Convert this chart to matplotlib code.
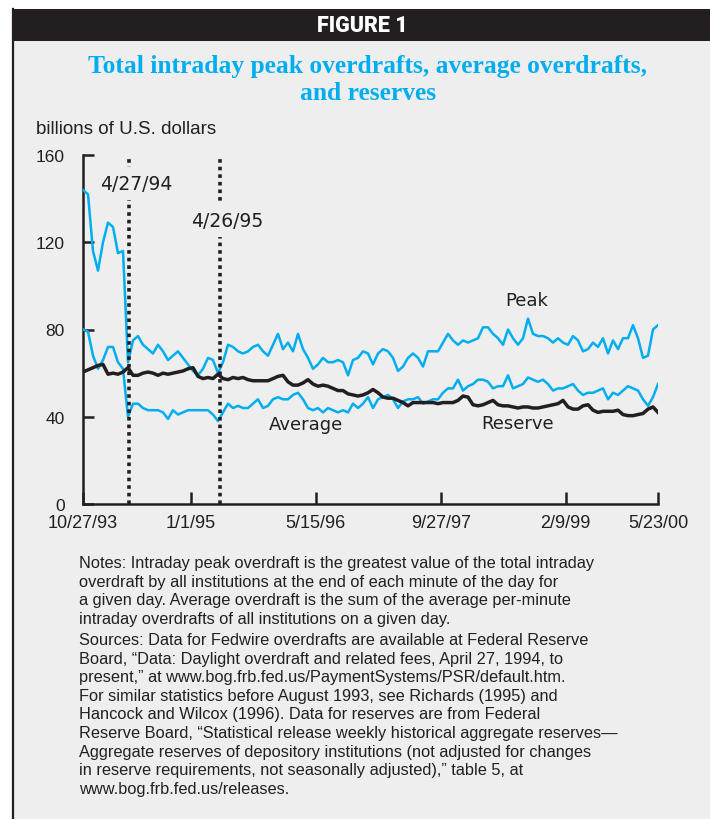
import matplotlib
matplotlib.use("Agg")
import matplotlib.pyplot as plt
import pandas as pd
from matplotlib.patches import Rectangle
from matplotlib.lines import Line2D

# ---------------- data ----------------
start_date = "1993-10-27"
n_points = 116
step = "20D"

peak = [144, 142, 116, 107, 120, 129, 127, 115, 116, 65,
        75, 77, 73, 71, 69, 73, 70, 66, 68, 70,
        67, 64, 61, 59, 62, 67, 66, 60, 65, 73,
        72, 70, 69, 70, 72, 73, 70, 68, 73, 78,
        71, 74, 70, 78, 71, 67, 62, 64, 67, 65,
        65, 66, 65, 59, 66, 67, 70, 69, 64, 69,
        71, 70, 67, 61, 63, 67, 69, 67, 63, 70,
        70, 70, 74, 78, 75, 73, 75, 74, 75, 76,
        81, 81, 78, 76, 73, 80, 76, 73, 76, 85,
        78, 77, 77, 76, 74, 76, 74, 73, 77, 75,
        70, 71, 74, 72, 76, 69, 75, 71, 76, 76,
        82, 76, 67, 68, 80, 82]

average = [80, 79, 68, 62, 66, 72, 72, 65, 62, 40,
           46, 46, 44, 43, 43, 43, 42, 39, 43, 41,
           42, 43, 43, 43, 43, 43, 41, 38, 42, 46,
           44, 45, 44, 44, 46, 48, 44, 45, 48, 49,
           48, 48, 50, 51, 48, 44, 43, 44, 42, 44,
           43, 42, 43, 42, 46, 44, 46, 49, 44, 48,
           49, 50, 48, 44, 47, 48, 48, 49, 46, 47,
           48, 48, 51, 53, 53, 57, 52, 54, 55, 57,
           57, 56, 53, 54, 54, 59, 53, 54, 55, 58,
           57, 56, 57, 55, 52, 53, 53, 54, 55, 52,
           50, 51, 51, 52, 53, 48, 51, 50, 52, 54,
           53, 52, 48, 45, 49, 55]

reserve = [60.5, 61.5, 62.5, 63.5, 64, 59.5, 60, 59.5, 60.5, 62.5,
           59, 59, 60, 60.5, 60, 59, 60, 59.5, 60, 60.5,
           61, 62, 62.5, 58.5, 57.5, 58, 57.5, 59.5, 57.5, 57,
           58, 57.5, 58, 57, 56.5, 56.5, 56.5, 56.5, 57.5, 58.5,
           59, 56, 54.5, 54.5, 55.5, 57, 55, 54, 54.5, 54,
           53, 52, 52, 50.5, 50, 49.5, 50, 51, 52.5, 51,
           49, 48.5, 48.5, 47.5, 46.5, 45, 46.5, 46.5, 46.5, 46.5,
           46.5, 46, 46.5, 46.5, 46.5, 47.5, 49.5, 49, 45.5, 45,
           45.5, 46.5, 47.5, 45.5, 45, 45, 44.5, 44, 44.5, 44.5,
           44, 44, 44.5, 45, 45.5, 46, 47.5, 44.5, 43.5, 43.5,
           45, 45.5, 43, 42, 42.5, 42.5, 42.5, 43, 41, 40.5,
           40.5, 41, 41.5, 43.5, 44.5, 42]

y_ticks = [0, 40, 80, 120, 160]
x_tick_dates = ["1993-10-27", "1995-01-01", "1996-05-15", "1997-09-27", "1999-02-09"]
x_tick_labels = ["10/27/93", "1/1/95", "5/15/96", "9/27/97", "2/9/99", "5/23/00"]
event_dates = ["1994-04-27", "1995-04-26"]
event_labels = ["4/27/94", "4/26/95"]
series_names = ["Peak", "Average", "Reserve"]

title = "Total intraday peak overdrafts, average overdrafts,\nand reserves"
notes = ("Notes: Intraday peak overdraft is the greatest value of the total intraday\n"
         "overdraft by all institutions at the end of each minute of the day for\n"
         "a given day. Average overdraft is the sum of the average per-minute\n"
         "intraday overdrafts of all institutions on a given day.")
sources = ("Sources: Data for Fedwire overdrafts are available at Federal Reserve\n"
           "Board, \u201cData: Daylight overdraft and related fees, April 27, 1994, to\n"
           "present,\u201d at www.bog.frb.fed.us/PaymentSystems/PSR/default.htm.\n"
           "For similar statistics before August 1993, see Richards (1995) and\n"
           "Hancock and Wilcox (1996). Data for reserves are from Federal\n"
           "Reserve Board, \u201cStatistical release weekly historical aggregate reserves\u2014\n"
           "Aggregate reserves of depository institutions (not adjusted for changes\n"
           "in reserve requirements, not seasonally adjusted),\u201d table 5, at\n"
           "www.bog.frb.fed.us/releases.")

# ---------------- style ----------------
BG = "#eeeeee"
DARK = "#231f20"
BLUE = "#00aeef"

dates = pd.date_range(start_date, periods=n_points, freq=step)

W, H = 710, 820
fig = plt.figure(figsize=(W / 100, H / 100), dpi=100, facecolor="white")

# background panel, header bar, left rule
fig.patches.append(Rectangle((12 / W, 0), 1 - 12 / W, 1 - 42 / H, transform=fig.transFigure,
                             facecolor=BG, edgecolor="none", zorder=-10))
fig.patches.append(Rectangle((12 / W, 1 - 42 / H), 1 - 12 / W, 32 / H, transform=fig.transFigure,
                             facecolor=DARK, edgecolor="none", zorder=-10))
fig.lines.append(Line2D([13 / W, 13 / W], [0, 1 - 10 / H], transform=fig.transFigure,
                        color=DARK, lw=1.6, zorder=-5))

fig.text(362 / W, 1 - 26 / H, "FIGURE 1", color="white", ha="center", va="center",
         fontsize=15.5, fontweight="heavy", family="Roboto")
fig.text(368 / W, 1 - 80 / H, title, color=BLUE, ha="center", va="center",
         fontsize=18.4, fontweight="bold", family="Liberation Serif", linespacing=1.22)
fig.text(36 / W, 1 - 130 / H, "billions of U.S. dollars", color=DARK, ha="left", va="center",
         fontsize=13.5, family="Liberation Sans")

ax = fig.add_axes([83 / W, (H - 505) / H, (658 - 83) / W, (505 - 156) / H])
ax.set_facecolor("none")

ax.plot(dates, peak, color=BLUE, lw=1.8, zorder=3)
ax.plot(dates, average, color=BLUE, lw=1.8, zorder=3)
ax.plot(dates, reserve, color=DARK, lw=2.5, zorder=4)

for d, lab, ly in zip(event_dates, event_labels, [146.8, 129.8]):
    dt = pd.Timestamp(d)
    ax.plot([dt, dt], [0, 159], color=DARK, lw=2.6, linestyle=(0, (1.0, 1.1)), zorder=5,
            clip_on=False)
    ax.text(dt + pd.Timedelta(days=30), ly, lab, ha="center", va="center", fontsize=13.5,
            color=DARK, family="DejaVu Sans", zorder=6,
            bbox=dict(facecolor=BG, edgecolor="none", pad=5))

label_pos = [("1998-09-07", 93.5), ("1996-04-06", 36.5), ("1998-08-02", 37)]
for name, (d, v) in zip(series_names, label_pos):
    ax.text(pd.Timestamp(d), v, name, ha="center", va="center", fontsize=13,
            color=DARK, family="DejaVu Sans", zorder=6)

ax.set_ylim(0, 160)
ax.set_xlim(dates[0], dates[-1])
ax.set_yticks(y_ticks)
ax.set_yticklabels([str(v) for v in y_ticks], fontsize=12.5, family="Liberation Sans", color=DARK)
tick_pos = [pd.Timestamp(d) for d in x_tick_dates] + [dates[-1]]
ax.set_xticks(tick_pos)
ax.set_xticklabels(x_tick_labels, fontsize=13, family="Liberation Sans", color=DARK)

for s in ["top", "right"]:
    ax.spines[s].set_visible(False)
for s in ["left", "bottom"]:
    ax.spines[s].set_linewidth(1.8)
    ax.spines[s].set_color(DARK)
ax.tick_params(axis="y", direction="in", length=8, width=1.8, pad=13, color=DARK)
ax.tick_params(axis="x", direction="in", length=9, width=1.8, pad=7, color=DARK)

fig.text(79 / W, 1 - 556 / H, notes, ha="left", va="top", fontsize=11.8,
         family="Liberation Sans", color=DARK, linespacing=1.3)
fig.text(79 / W, 1 - 633 / H, sources, ha="left", va="top", fontsize=11.8,
         family="Liberation Sans", color=DARK, linespacing=1.3)

fig.savefig("out.png", dpi=100, facecolor="white")
